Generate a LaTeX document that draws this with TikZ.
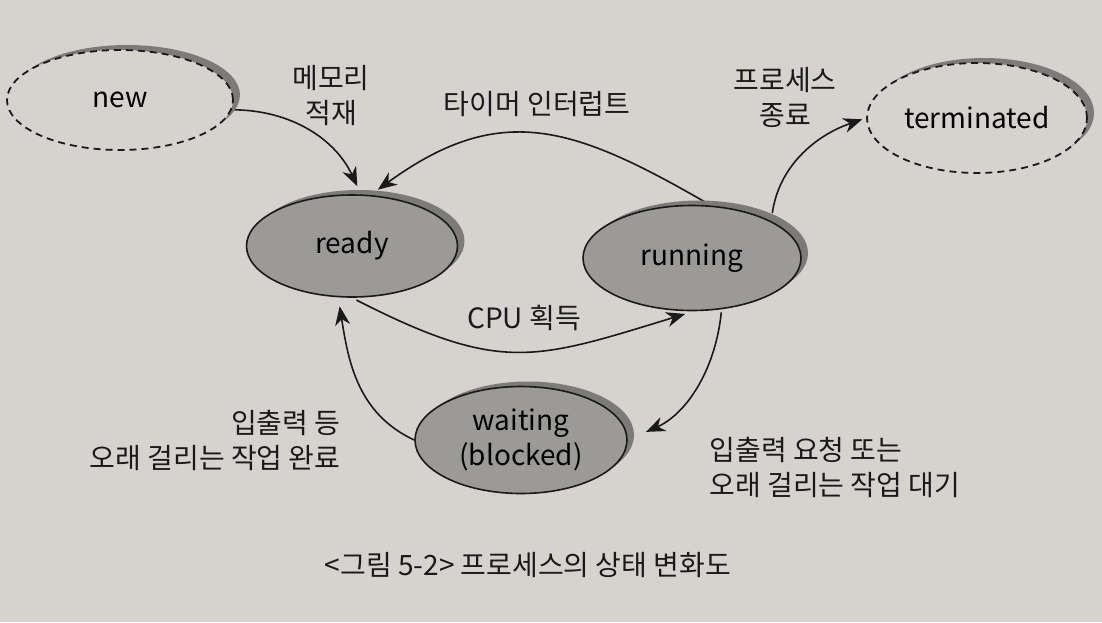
\documentclass[tikz,border=0pt]{standalone}
\usepackage{fontspec}
\setmainfont{Noto Sans CJK KR}
\usetikzlibrary{shapes,shadows,arrows.meta,backgrounds}
\definecolor{paper}{HTML}{D6D3CE}
\definecolor{statefill}{HTML}{9C9A97}
\definecolor{shadowgray}{HTML}{7D7B79}
\definecolor{ink}{HTML}{1A1A1A}
\tikzset{
    state/.style = {draw=ink, ellipse, line width=1.6pt, inner sep=0pt,
        fill=statefill,
        drop shadow={shadow xshift=7pt,shadow yshift=5pt,fill=shadowgray,opacity=1},
        align=center},
    openstate/.style = {state, fill=paper, line width=1.8pt, dash pattern=on 7pt off 5pt},
    arrow/.style = {draw=ink, line width=1.6pt,
        -{Stealth[length=19pt,width=15pt,inset=6pt]},
        shorten >=9pt, shorten <=2pt},
    note/.style = {align=center, text=ink}
}

\begin{document}
\begin{tikzpicture}[x=1pt, y=1pt, every node/.style={font=\fontsize{28}{35}\selectfont}]
                \useasboundingbox (0,0) rectangle (1102,-622);
                \node[openstate, minimum width=226pt, minimum height=100pt] (new) at (120,-100) {new};
                \node[state, minimum width=211pt, minimum height=102pt] (ready) at (352,-246) {ready};
                \node[state, minimum width=218pt, minimum height=105pt] (running) at (692,-258) {running};
                \node[state, minimum width=212pt, minimum height=107pt] (waiting) at (521,-440) {waiting\\(blocked)};
                \node[openstate, minimum width=220pt, minimum height=110pt] (terminated) at (977,-118) {terminated};
                % transition labels
                \node[note] (load) at (331,-96) {메모리\\적재};
                \node[note] (timer) at (537,-104) {타이머 인터럽트};
                \node[note] (exit) at (785,-97) {프로세스\\종료};
                \node[note] (dispatch) at (524,-318) {CPU 획득};
                \node[note, align=right, anchor=east] (iodone) at (344,-440) {입출력 등\\오래 걸리는 작업 완료};
                \node[note, align=left, anchor=west] (iowait) at (706,-467) {입출력 요청 또는\\오래 걸리는 작업 대기};
                \node[note] (caption) at (528,-565) {<그림 5-2> 프로세스의 상태 변화도};
                \begin{scope}[on background layer]
                \fill[paper] (0,0) rectangle (1102,-622);
                \draw[arrow, shorten <=0pt] (new.-5) to[out=0,in=115] (ready.80);
                \draw[arrow, shorten <=5pt] (running.70) to[out=150,in=36,looseness=1.2] (ready.70);
                \draw[arrow, shorten <=5pt] (ready.-90) to[out=-27,in=197,looseness=1.25] (running.-88);
                \draw[arrow, shorten <=8pt, shorten >=4pt] (running.25) to[out=82,in=199] (terminated.west);
                \draw[arrow, shorten <=3pt, shorten >=20pt] (running.-60) to[out=-96,in=24] (waiting.east);
                \draw[arrow, shorten <=0pt] (waiting.west) to[out=155,in=-81] (ready.-105);
                \end{scope}
            \end{tikzpicture}
\end{document}
